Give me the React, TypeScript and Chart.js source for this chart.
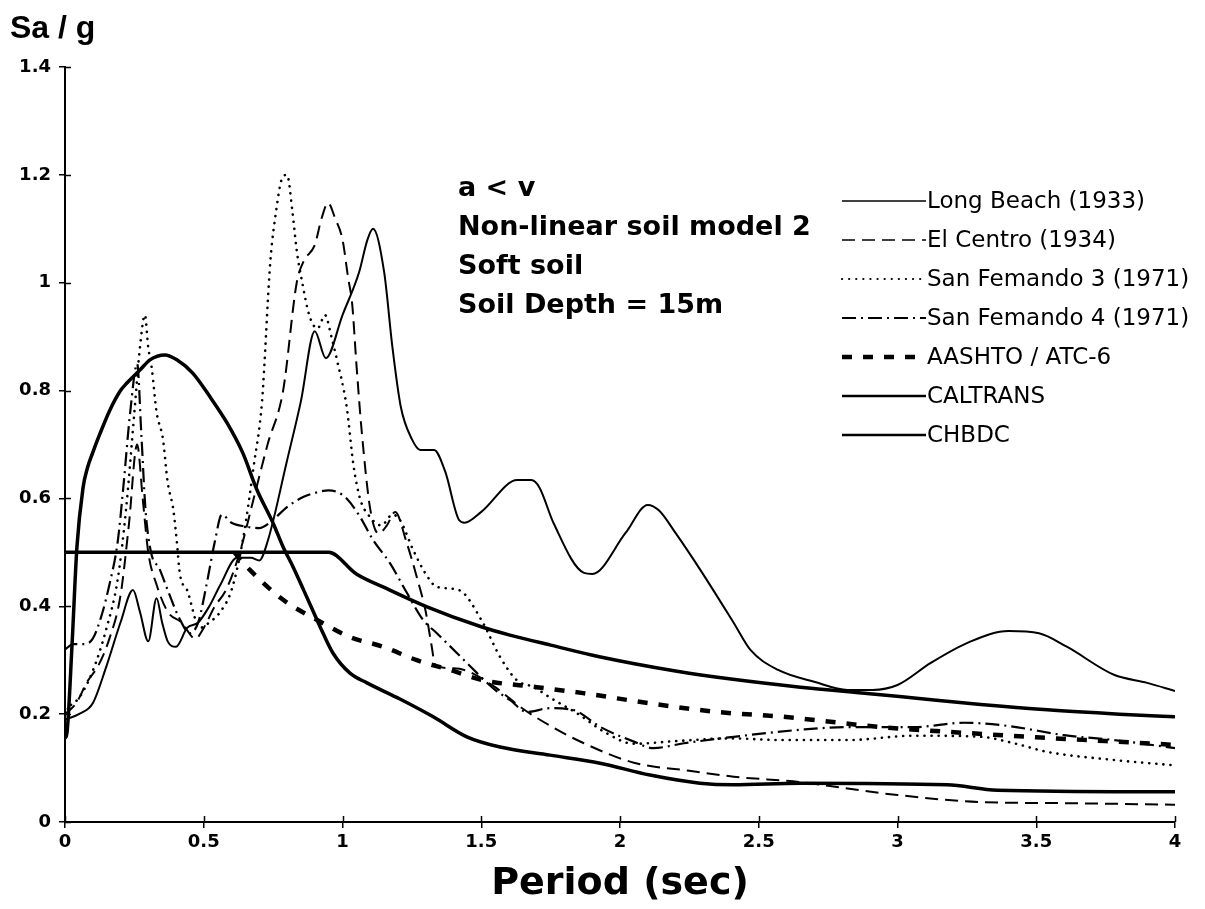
import { useEffect, useRef } from 'react';
import { Chart, registerables } from 'chart.js';

Chart.register(...registerables);

// Period (sec) / spectral acceleration (Sa/g) pairs for each spectrum
const longBeach: [number, number][] = [
  [0, 0.19], [0.05, 0.2], [0.1, 0.22], [0.15, 0.29], [0.2, 0.37], [0.245, 0.43], [0.27, 0.39],
  [0.3, 0.335], [0.33, 0.415], [0.35, 0.37], [0.37, 0.335], [0.4, 0.325], [0.44, 0.36], [0.48, 0.37],
  [0.52, 0.4], [0.56, 0.44], [0.62, 0.49], [0.67, 0.49], [0.7, 0.485], [0.73, 0.52], [0.8, 0.67],
  [0.85, 0.78], [0.9, 0.91], [0.94, 0.86], [1.0, 0.94], [1.06, 1.02], [1.09, 1.08], [1.11, 1.1],
  [1.15, 1.02], [1.18, 0.88], [1.21, 0.77], [1.25, 0.71], [1.28, 0.69], [1.33, 0.69], [1.37, 0.65],
  [1.42, 0.56], [1.44, 0.555], [1.5, 0.575], [1.63, 0.634], [1.68, 0.634], [1.71, 0.62], [1.76, 0.555],
  [1.87, 0.462], [1.9, 0.46], [2.02, 0.536], [2.1, 0.588], [2.14, 0.578], [2.2, 0.536], [2.29, 0.467],
  [2.41, 0.369], [2.47, 0.319], [2.57, 0.282], [2.7, 0.26], [2.82, 0.245], [2.91, 0.245], [3.0, 0.254],
  [3.12, 0.295], [3.26, 0.334], [3.4, 0.354], [3.51, 0.35], [3.61, 0.325], [3.78, 0.273], [3.9, 0.258],
  [4.0, 0.243],
];

const elCentro: [number, number][] = [
  [0, 0.2], [0.04, 0.22], [0.08, 0.26], [0.12, 0.29], [0.16, 0.34], [0.2, 0.42], [0.23, 0.55],
  [0.26, 0.7], [0.28, 0.6], [0.3, 0.5], [0.33, 0.44], [0.37, 0.39], [0.42, 0.37], [0.47, 0.34],
  [0.5, 0.36], [0.54, 0.4], [0.58, 0.43], [0.63, 0.5], [0.68, 0.6], [0.73, 0.7], [0.786, 0.8],
  [0.835, 1.0], [0.86, 1.04], [0.9, 1.07], [0.925, 1.12], [0.948, 1.148], [0.973, 1.12], [1.0, 1.08],
  [1.02, 1.01], [1.035, 0.96], [1.05, 0.85], [1.07, 0.72], [1.1, 0.58], [1.13, 0.535], [1.16, 0.55],
  [1.19, 0.575], [1.23, 0.52], [1.27, 0.45], [1.3, 0.39], [1.32, 0.33], [1.335, 0.29], [1.4, 0.285],
  [1.45, 0.28], [1.55, 0.25], [1.65, 0.21], [1.75, 0.178], [1.87, 0.146], [2.05, 0.11], [2.25, 0.095],
  [2.41, 0.084], [2.65, 0.074], [2.82, 0.062], [3.0, 0.05], [3.3, 0.037], [3.6, 0.035], [4.0, 0.032],
];

const sanFernando3: [number, number][] = [
  [0, 0.21], [0.05, 0.23], [0.1, 0.28], [0.15, 0.36], [0.19, 0.45], [0.22, 0.58], [0.25, 0.76],
  [0.27, 0.88], [0.288, 0.94], [0.3, 0.88], [0.313, 0.84], [0.33, 0.76], [0.353, 0.71], [0.37, 0.63],
  [0.39, 0.58], [0.403, 0.52], [0.414, 0.46], [0.44, 0.43], [0.486, 0.36], [0.52, 0.37], [0.56, 0.39],
  [0.6, 0.43], [0.64, 0.52], [0.68, 0.66], [0.71, 0.78], [0.74, 1.04], [0.76, 1.13], [0.78, 1.19],
  [0.8, 1.2], [0.82, 1.13], [0.835, 1.06], [0.855, 1.0], [0.88, 0.94], [0.91, 0.915], [0.937, 0.94],
  [0.96, 0.9], [0.98, 0.857], [1.015, 0.77], [1.04, 0.66], [1.063, 0.6], [1.1, 0.565], [1.14, 0.55],
  [1.18, 0.57], [1.207, 0.56], [1.255, 0.504], [1.3, 0.46], [1.34, 0.436], [1.42, 0.43], [1.5, 0.375],
  [1.568, 0.306], [1.628, 0.263], [1.69, 0.25], [1.75, 0.23], [1.85, 0.2], [1.95, 0.165], [2.05, 0.145],
  [2.2, 0.15], [2.4, 0.155], [2.58, 0.152], [2.82, 0.152], [3.06, 0.16], [3.3, 0.158], [3.42, 0.146],
  [3.54, 0.13], [3.78, 0.115], [4.0, 0.105],
];

const sanFernando4: [number, number][] = [
  [0, 0.32], [0.03, 0.33], [0.07, 0.33], [0.1, 0.34], [0.13, 0.38], [0.16, 0.44], [0.19, 0.52],
  [0.21, 0.62], [0.235, 0.76], [0.26, 0.85], [0.275, 0.72], [0.29, 0.58], [0.31, 0.5], [0.34, 0.47],
  [0.37, 0.43], [0.41, 0.38], [0.45, 0.35], [0.48, 0.37], [0.51, 0.44], [0.54, 0.52], [0.565, 0.57],
  [0.6, 0.555], [0.65, 0.548], [0.7, 0.545], [0.74, 0.556], [0.8, 0.584], [0.86, 0.603], [0.9, 0.61],
  [0.95, 0.615], [0.98, 0.612], [1.015, 0.6], [1.063, 0.566], [1.11, 0.523], [1.171, 0.48],
  [1.232, 0.425], [1.29, 0.375], [1.34, 0.35], [1.413, 0.313], [1.485, 0.276], [1.55, 0.245],
  [1.604, 0.226], [1.664, 0.204], [1.748, 0.211], [1.83, 0.208], [1.93, 0.176], [2.05, 0.149],
  [2.12, 0.137], [2.23, 0.146], [2.41, 0.158], [2.65, 0.171], [2.82, 0.176], [3.06, 0.176],
  [3.24, 0.184], [3.4, 0.178], [3.6, 0.161], [3.78, 0.152], [4.0, 0.137],
];

const aashto: [number, number][] = [
  [0.61, 0.5], [0.667, 0.467], [0.786, 0.412], [0.907, 0.375], [1.027, 0.343], [1.146, 0.325],
  [1.268, 0.3], [1.387, 0.282], [1.506, 0.263], [1.7, 0.25], [1.867, 0.239], [2.108, 0.22],
  [2.35, 0.204], [2.59, 0.195], [2.94, 0.176], [3.25, 0.165], [3.5, 0.157], [3.75, 0.15], [4.0, 0.143],
];

const caltrans: [number, number][] = [
  [0, 0.155], [0.007, 0.165], [0.025, 0.325], [0.043, 0.51], [0.065, 0.62], [0.08, 0.655],
  [0.1, 0.685], [0.126, 0.72], [0.162, 0.764], [0.2, 0.8], [0.223, 0.814], [0.27, 0.838],
  [0.306, 0.857], [0.36, 0.866], [0.403, 0.857], [0.461, 0.832], [0.523, 0.788], [0.584, 0.74],
  [0.641, 0.684], [0.69, 0.618], [0.75, 0.554], [0.786, 0.51], [0.822, 0.473], [0.86, 0.43],
  [0.895, 0.39], [0.93, 0.35], [0.966, 0.313], [1.027, 0.276], [1.088, 0.258], [1.207, 0.228],
  [1.327, 0.195], [1.448, 0.158], [1.568, 0.139], [1.748, 0.124], [1.928, 0.109], [2.108, 0.087],
  [2.288, 0.072], [2.407, 0.069], [2.649, 0.072], [3.178, 0.069], [3.36, 0.059], [4.0, 0.056],
];

const chbdc: [number, number][] = [
  [0, 0.5], [0.95, 0.5], [1.05, 0.46], [1.15, 0.435], [1.3, 0.4], [1.5, 0.362], [1.6, 0.347],
  [1.75, 0.328], [1.93, 0.306], [2.2, 0.28], [2.4, 0.265], [2.65, 0.25], [2.9, 0.238], [3.06, 0.23],
  [3.3, 0.218], [3.54, 0.208], [3.8, 0.2], [4.0, 0.195],
];

const seriesNames = [
  'Long Beach (1933)',
  'El Centro (1934)',
  'San Femando 3 (1971)',
  'San Femando 4 (1971)',
  'AASHTO / ATC-6',
  'CALTRANS',
  'CHBDC',
];

const xTicks = [0, 0.5, 1, 1.5, 2, 2.5, 3, 3.5, 4];
const xTickLabels = ['0', '0.5', '1', '1.5', '2', '2.5', '3', '3.5', '4'];
const yTicks = [0, 0.2, 0.4, 0.6, 0.8, 1, 1.2, 1.4];
const yTickLabels = ['0', '0.2', '0.4', '0.6', '0.8', '1', '1.2', '1.4'];

const yTitle = 'Sa / g';
const xTitle = 'Period (sec)';
const notes = ['a < v', 'Non-linear soil model 2', 'Soft soil', 'Soil Depth = 15m'];

type LineStyle = { width: number; dash: number[]; cap: CanvasLineCap; legendWidth: number };

const styles: LineStyle[] = [
  { width: 2, dash: [], cap: 'butt', legendWidth: 1.6 },
  { width: 2, dash: [13, 7], cap: 'butt', legendWidth: 1.6 },
  { width: 2.6, dash: [0.1, 7], cap: 'round', legendWidth: 2.2 },
  { width: 2.2, dash: [14, 5, 2, 5], cap: 'butt', legendWidth: 1.8 },
  { width: 4.5, dash: [10, 11], cap: 'butt', legendWidth: 4.5 },
  { width: 3.5, dash: [], cap: 'butt', legendWidth: 2.6 },
  { width: 3.5, dash: [], cap: 'butt', legendWidth: 2.6 },
];

const allSeries = [longBeach, elCentro, sanFernando3, sanFernando4, aashto, caltrans, chbdc];

const TICK_FONT = { family: '"DejaVu Sans", sans-serif', size: 18, weight: 'bold' as const };

// tick stubs that also reach into the plot area, like crossing tick marks
const crossTicks = {
  id: 'crossTicks',
  afterDraw(chart: any) {
    const { ctx, chartArea } = chart;
    const xs = chart.scales.x;
    const ys = chart.scales.y;
    ctx.save();
    ctx.strokeStyle = '#000';
    ctx.lineWidth = 1.5;
    ctx.beginPath();
    xTicks.forEach((v) => {
      const px = Math.round(xs.getPixelForValue(v)) + 0.5;
      ctx.moveTo(px, chartArea.bottom);
      ctx.lineTo(px, chartArea.bottom - 6);
    });
    yTicks.forEach((v) => {
      const py = Math.round(ys.getPixelForValue(v)) + 0.5;
      ctx.moveTo(chartArea.left, py);
      ctx.lineTo(chartArea.left + 6, py);
    });
    ctx.stroke();
    ctx.restore();
  },
};

// axis titles, case notes and the line-sample legend
const overlayText = {
  id: 'overlayText',
  afterDraw(chart: any) {
    const { ctx, chartArea } = chart;
    ctx.save();
    ctx.fillStyle = '#000';

    ctx.font = 'bold 32px "Liberation Sans", Arial, sans-serif';
    ctx.textAlign = 'left';
    ctx.textBaseline = 'alphabetic';
    ctx.fillText(yTitle, 10, 38);

    ctx.font = 'bold 38px "DejaVu Sans", sans-serif';
    ctx.textAlign = 'center';
    ctx.textBaseline = 'middle';
    ctx.fillText(xTitle, (chartArea.left + chartArea.right) / 2, 884);

    ctx.font = 'bold 27px "DejaVu Sans", sans-serif';
    ctx.textAlign = 'left';
    notes.forEach((t, i) => ctx.fillText(t, 458, 189 + i * 39));

    ctx.font = '23px "DejaVu Sans", sans-serif';
    seriesNames.forEach((name, i) => {
      const y = 201 + i * 39;
      const st = styles[i];
      ctx.save();
      ctx.strokeStyle = '#000';
      ctx.lineWidth = st.legendWidth;
      ctx.lineCap = st.cap;
      ctx.setLineDash(st.dash);
      ctx.beginPath();
      ctx.moveTo(842, y);
      ctx.lineTo(926, y);
      ctx.stroke();
      ctx.restore();
      ctx.fillText(name, 927, y + 1);
    });
    ctx.restore();
  },
};

export default function App() {
  const canvasRef = useRef<HTMLCanvasElement>(null);

  useEffect(() => {
    const canvas = canvasRef.current;
    if (!canvas) return;

    const datasets = allSeries.map((pts, i) => ({
      label: seriesNames[i],
      data: pts.map(([x, y]) => ({ x, y })),
      borderColor: '#000',
      backgroundColor: '#000',
      borderWidth: styles[i].width,
      borderDash: styles[i].dash,
      borderCapStyle: styles[i].cap,
      borderJoinStyle: 'round' as const,
      pointRadius: 0,
      fill: false,
      cubicInterpolationMode: 'monotone' as const,
    }));

    const chart = new Chart(canvas, {
      type: 'line',
      data: { datasets },
      options: {
        animation: false,
        responsive: false,
        devicePixelRatio: 1,
        layout: { padding: { left: 0, top: 67, right: 30, bottom: 0 } },
        plugins: {
          legend: { display: false },
          tooltip: { enabled: false },
        },
        scales: {
          x: {
            type: 'linear',
            min: 0,
            max: 4,
            afterBuildTicks: (scale: any) => {
              scale.ticks = xTicks.map((value) => ({ value }));
            },
            afterFit: (scale: any) => {
              scale.height = 87;
            },
            ticks: {
              callback: (_v: any, i: number) => xTickLabels[i],
              color: '#000',
              font: TICK_FONT,
              padding: 4,
              maxRotation: 0,
              autoSkip: false,
            },
            grid: {
              display: true,
              drawOnChartArea: false,
              drawTicks: true,
              tickLength: 6,
              color: '#000',
              lineWidth: 1.5,
            },
            border: { display: true, color: '#000', width: 2 },
          },
          y: {
            type: 'linear',
            min: 0,
            max: 1.4,
            afterBuildTicks: (scale: any) => {
              scale.ticks = yTicks.map((value) => ({ value }));
            },
            afterFit: (scale: any) => {
              scale.width = 65;
            },
            ticks: {
              callback: (_v: any, i: number) => yTickLabels[i],
              color: '#000',
              font: TICK_FONT,
              padding: 8,
              autoSkip: false,
            },
            grid: {
              display: true,
              drawOnChartArea: false,
              drawTicks: true,
              tickLength: 6,
              color: '#000',
              lineWidth: 1.5,
            },
            border: { display: true, color: '#000', width: 2 },
          },
        },
      },
      plugins: [crossTicks, overlayText],
    });

    return () => chart.destroy();
  }, []);

  return (
    <div style={{ position: 'absolute', left: 0, top: 0, width: 1205, height: 909, background: '#fff' }}>
      <canvas ref={canvasRef} width={1205} height={909} style={{ display: 'block', width: 1205, height: 909 }} />
    </div>
  );
}
